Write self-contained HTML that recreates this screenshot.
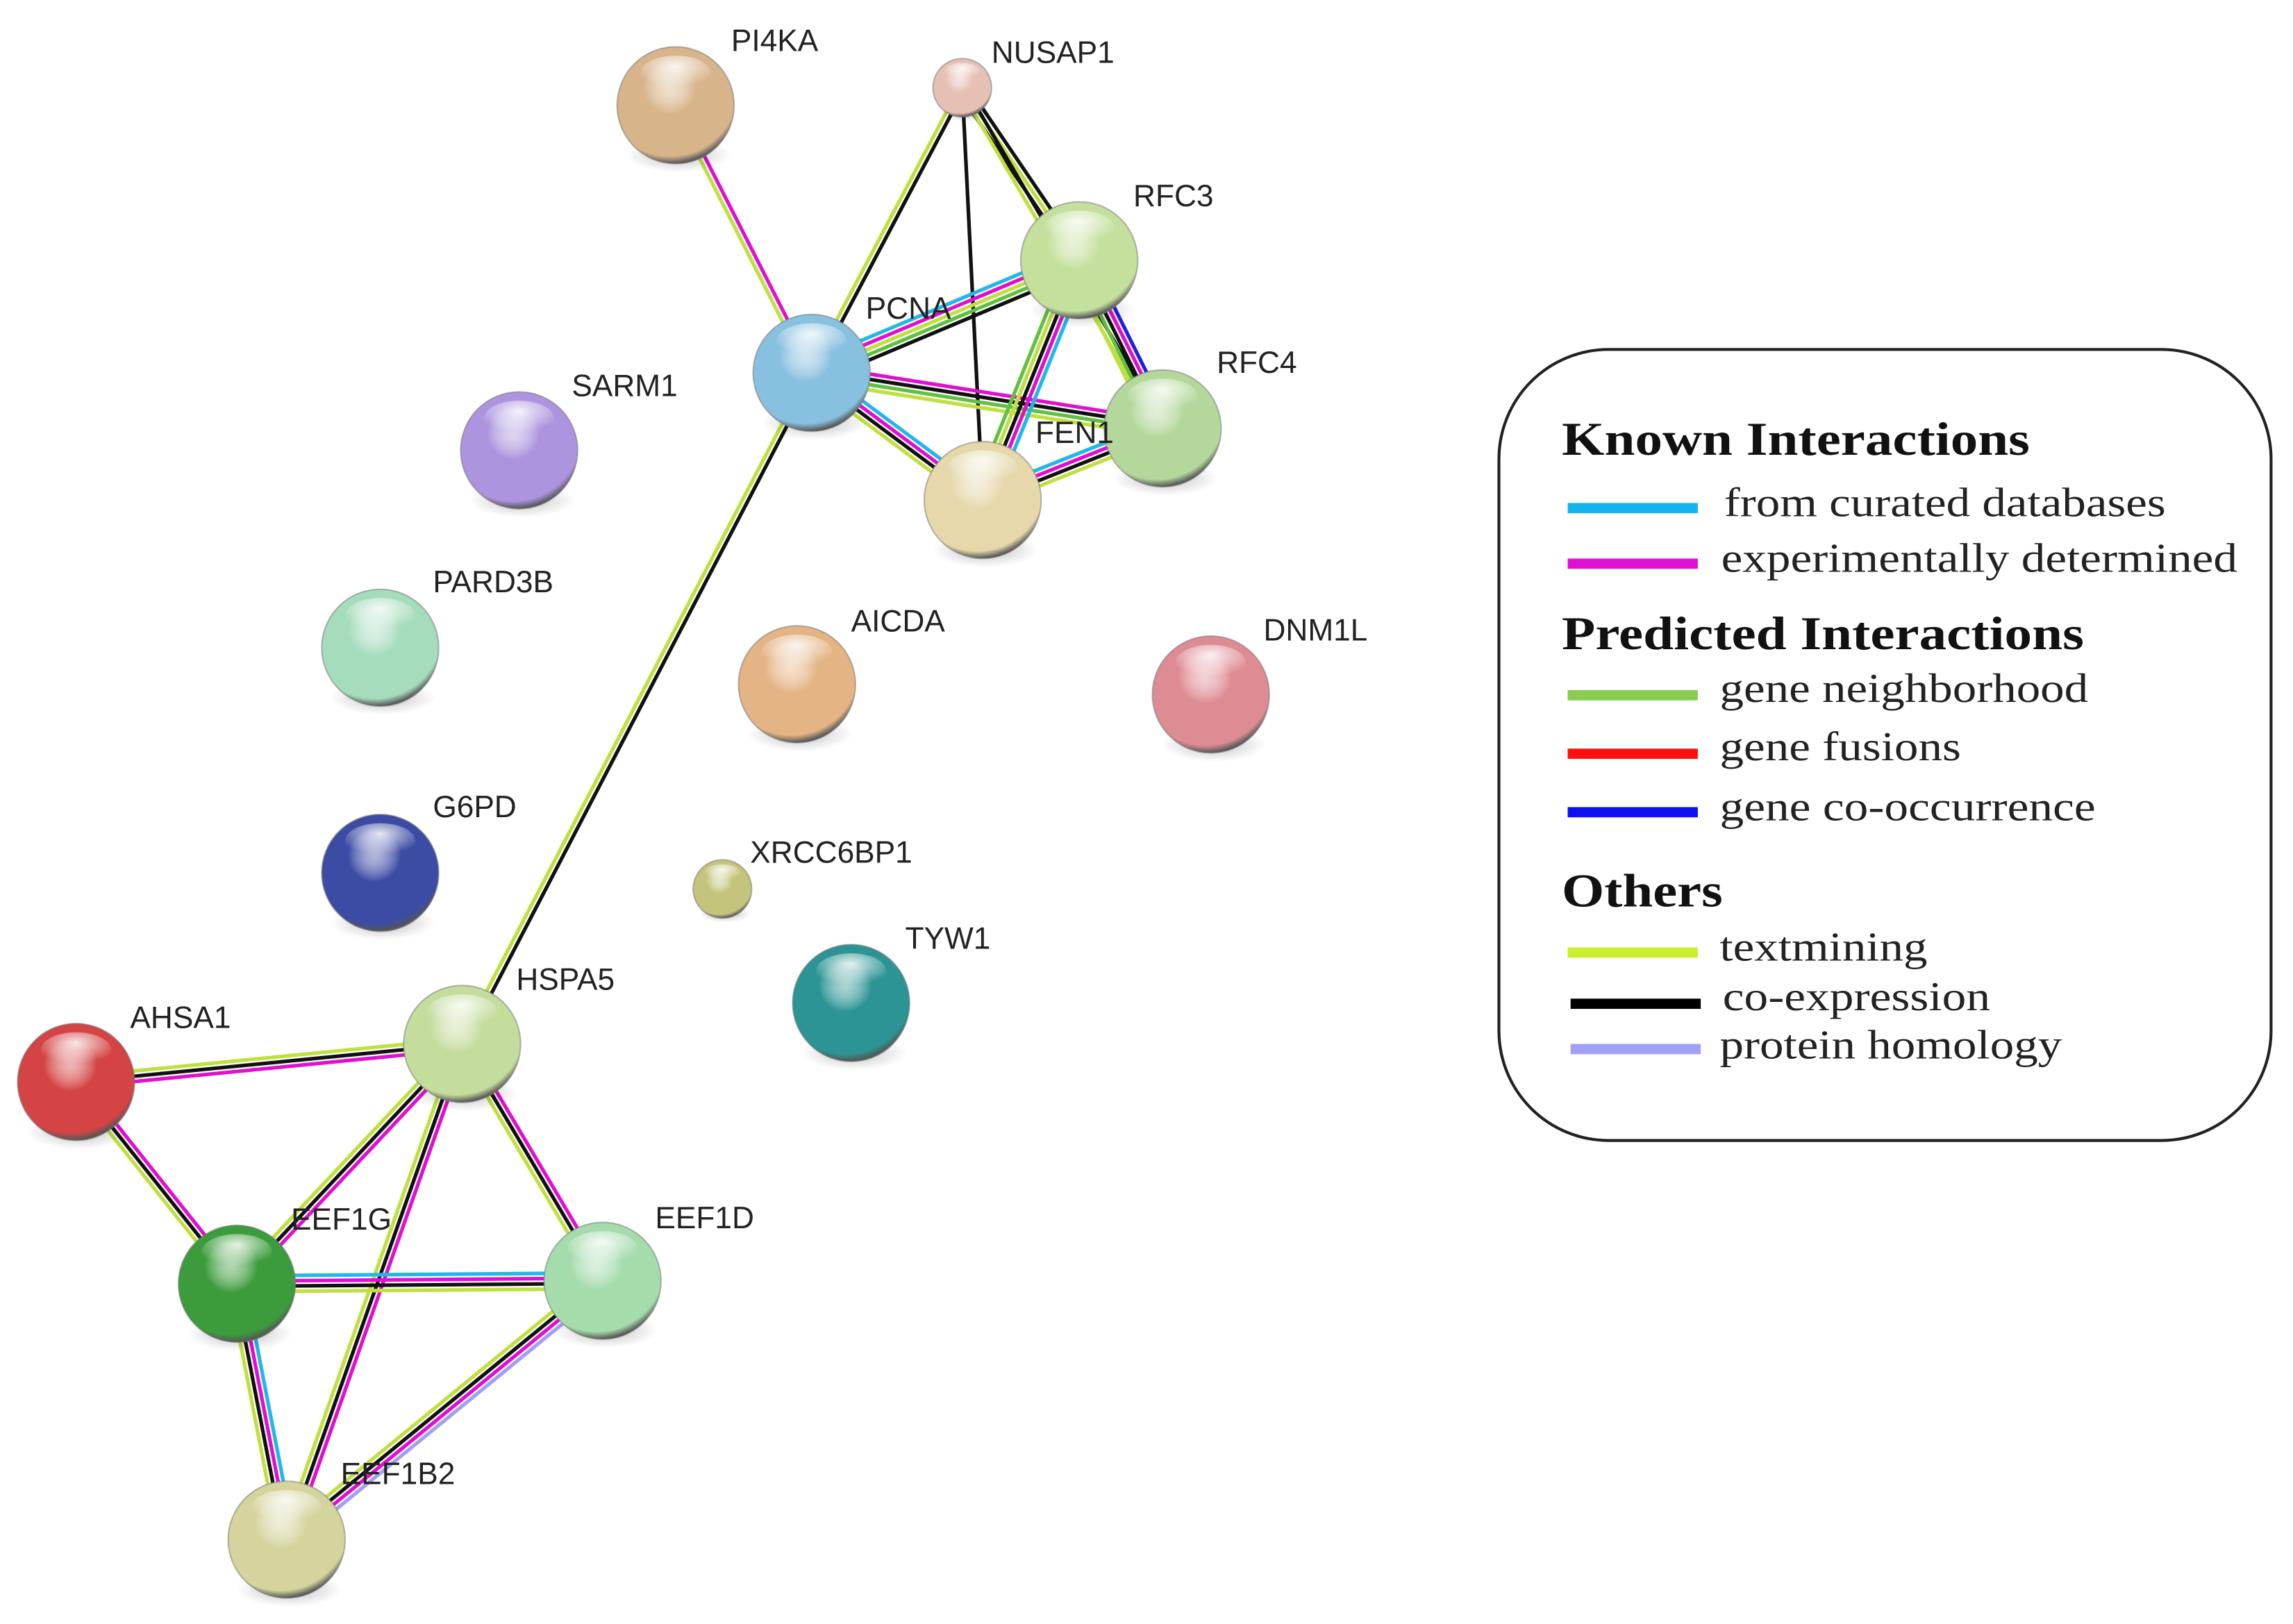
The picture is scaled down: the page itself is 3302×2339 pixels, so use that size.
<!DOCTYPE html>
<html><head><meta charset="utf-8">
<style>
html,body{margin:0;padding:0;background:#fff;width:3302px;height:2339px;overflow:hidden}
svg{display:block}
.lbl{font-family:"Liberation Sans",Arial,sans-serif;font-size:21px;fill:#222}
.h{font-family:"Liberation Serif",serif;font-weight:bold;font-size:32px;fill:#111}
.t{font-family:"Liberation Serif",serif;font-size:28px;fill:#222}
</style></head>
<body>
<svg id="s" width="3302" height="2339" viewBox="0 0 1568 1110.7" xmlns="http://www.w3.org/2000/svg">
<defs>
<radialGradient id="hl" cx="50%" cy="30%" r="60%"><stop offset="0" stop-color="#fff" stop-opacity="0.85"/><stop offset="1" stop-color="#fff" stop-opacity="0"/></radialGradient>
<radialGradient id="sh" cx="50%" cy="50%" r="50%"><stop offset="0" stop-color="#000" stop-opacity="0.25"/><stop offset="1" stop-color="#000" stop-opacity="0"/></radialGradient>
</defs>
<g id="edges"></g>
<g id="nodes"></g>
<g>
<rect x="1025" y="239" width="528" height="541" rx="75" ry="75" fill="none" stroke="#222" stroke-width="2"/>
<text class="h" x="1068" y="311" textLength="320" lengthAdjust="spacingAndGlyphs">Known Interactions</text>
<rect x="1072" y="344" width="89" height="7" fill="#11b4ee"/><text class="t" x="1179" y="353" textLength="302" lengthAdjust="spacingAndGlyphs">from curated databases</text>
<rect x="1072" y="382" width="89" height="7" fill="#e010d0"/><text class="t" x="1177" y="391" textLength="353" lengthAdjust="spacingAndGlyphs">experimentally determined</text>
<text class="h" x="1068" y="444" textLength="357" lengthAdjust="spacingAndGlyphs">Predicted Interactions</text>
<rect x="1072" y="472" width="89" height="7" fill="#88cc50"/><text class="t" x="1176" y="480" textLength="252" lengthAdjust="spacingAndGlyphs">gene neighborhood</text>
<rect x="1072" y="512" width="89" height="7" fill="#ff1010"/><text class="t" x="1176" y="520" textLength="165" lengthAdjust="spacingAndGlyphs">gene fusions</text>
<rect x="1072" y="552" width="89" height="7" fill="#1010f0"/><text class="t" x="1176" y="561" textLength="257" lengthAdjust="spacingAndGlyphs">gene co-occurrence</text>
<text class="h" x="1068" y="620" textLength="110" lengthAdjust="spacingAndGlyphs">Others</text>
<rect x="1072" y="648" width="89" height="7" fill="#c8f030"/><text class="t" x="1176" y="657" textLength="142" lengthAdjust="spacingAndGlyphs">textmining</text>
<rect x="1074" y="683" width="89" height="7" fill="#000"/><text class="t" x="1178" y="691" textLength="183" lengthAdjust="spacingAndGlyphs">co-expression</text>
<rect x="1074" y="714" width="89" height="7" fill="#a0a0f8"/><text class="t" x="1176" y="724" textLength="234" lengthAdjust="spacingAndGlyphs">protein homology</text>
</g>
</svg>
<script>
var N={PI4KA:[462,72,40,'#d8b48a',500,35],NUSAP1:[658,60,20,'#e6c0b4',678,43],RFC3:[738,178,40,'#c4e09c',775,141],PCNA:[555,255,40,'#88c0e0',592,218],RFC4:[795,293,40,'#b4d89c',832,255],FEN1:[672,342,40,'#e6d8aa',708,303],SARM1:[355,308,40,'#ac94de',391,271],PARD3B:[260,443,40,'#a4dcbc',296,405],AICDA:[545,468,40,'#e4b484',582,432],DNM1L:[828,475,40,'#de8c94',864,438],G6PD:[260,597,40,'#3c4ca4',296,559],XRCC6BP1:[494,608,20,'#c4c47c',513,590],TYW1:[582,686,40,'#2c9494',619,649],HSPA5:[316,714,40,'#c4dc9c',353,677],AHSA1:[52,740,40,'#d44444',89,703],EEF1G:[162,878,40,'#3c9c3c',199,841],EEF1D:[412,876,40,'#a4dcac',448,840],EEF1B2:[196,1053,40,'#d4d49c',233,1015]};
var M='#e010d0',K='#111',Y='#c0e040',C='#20b8e8',G='#60c040',B='#2020e0',L='#a0a0f0';
var E=[['PI4KA','PCNA',[M,Y]],['NUSAP1','PCNA',[K,Y]],['NUSAP1','RFC3',[K,Y,K]],['NUSAP1','FEN1',[K]],['NUSAP1','RFC4',[K,Y]],
['PCNA','RFC3',[C,M,Y,G,K]],['PCNA','RFC4',[M,K,G,Y]],['PCNA','FEN1',[C,M,K,Y]],['RFC3','RFC4',[B,M,K,G,Y]],['RFC3','FEN1',[C,M,K,Y,G]],['FEN1','RFC4',[C,M,K,Y]],
['PCNA','HSPA5',[K,Y]],['HSPA5','AHSA1',[M,K,Y]],['HSPA5','EEF1G',[M,K,Y]],['HSPA5','EEF1D',[M,K,Y]],['HSPA5','EEF1B2',[M,K,Y]],['AHSA1','EEF1G',[M,K,Y]],
['EEF1G','EEF1D',[C,M,K,Y]],['EEF1G','EEF1B2',[C,M,K,Y]],['EEF1D','EEF1B2',[L,M,K,Y]]];
var ns='http://www.w3.org/2000/svg';
function el(t,a,p){var e=document.createElementNS(ns,t);for(var k in a)e.setAttribute(k,a[k]);p.appendChild(e);return e;}
var eg=document.getElementById('edges'),ng=document.getElementById('nodes'),sv=document.getElementById('s');
E.forEach(function(e){var a=N[e[0]],b=N[e[1]],dx=b[0]-a[0],dy=b[1]-a[1],l=Math.hypot(dx,dy),px=-dy/l,py=dx/l,n=e[2].length,sp=3.6;
e[2].forEach(function(c,i){var o=(i-(n-1)/2)*sp;el('line',{x1:a[0]+px*o,y1:a[1]+py*o,x2:b[0]+px*o,y2:b[1]+py*o,stroke:c,'stroke-width':2.5},eg);});});
var defs=sv.querySelector('defs');
Object.keys(N).forEach(function(k,i){var n=N[k],x=n[0],y=n[1],r=n[2];
var g=el('radialGradient',{id:'g'+i,cx:'45%',cy:'35%',r:'65%'},defs);
el('stop',{offset:'0','stop-color':'#fff','stop-opacity':'0.6'},g);el('stop',{offset:'0.35','stop-color':n[3]},g);el('stop',{offset:'0.9','stop-color':n[3]},g);el('stop',{offset:'1','stop-color':'#555'},g);
el('ellipse',{cx:x+2,cy:y+r*0.85,rx:r*0.9,ry:r*0.3,fill:'url(#sh)'},ng);
el('circle',{cx:x,cy:y,r:r,fill:n[3]},ng);
el('circle',{cx:x,cy:y,r:r,fill:'url(#g'+i+')',stroke:'#777','stroke-opacity':0.5,'stroke-width':1},ng);
el('ellipse',{cx:x,cy:y-r*0.55,rx:r*0.6,ry:r*0.3,fill:'url(#hl)'},ng);
var t=el('text',{x:n[4],y:n[5],'class':'lbl'},ng);t.textContent=k;});
</script>
</body></html>
